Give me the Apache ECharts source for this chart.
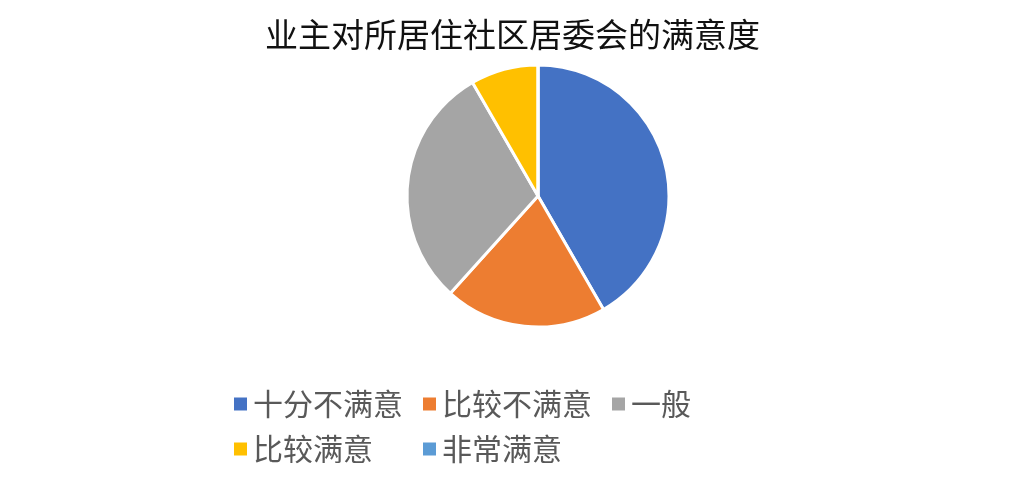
<!DOCTYPE html>
<html><head><meta charset="utf-8">
<script src="https://cdn.jsdelivr.net/npm/echarts@6/dist/echarts.min.js"></script>
<style>html,body{margin:0;padding:0;background:#fff}#c{width:1025px;height:496px}</style>
</head><body><div id="c"></div>
<script>
const titleText = '业主对所居住社区居委会的满意度';
const categories = ['十分不满意', '比较不满意', '一般', '比较满意', '非常满意'];
const values = [25, 12, 18, 5, 0];
const colors = ['#4472C4', '#ED7D31', '#A5A5A5', '#FFC000', '#5B9BD5'];

const chart = echarts.init(document.getElementById('c'), null, {renderer: 'canvas'});
chart.setOption({
  backgroundColor: '#fff',
  animation: false,
  color: colors,
  title: {
    text: titleText,
    left: 'center',
    top: 13,
    textStyle: {fontFamily: 'Noto Sans CJK SC', fontSize: 33, fontWeight: 'normal', color: '#111'}
  },
  legend: {
    data: categories,
    left: 227,
    top: 384,
    width: 590,
    orient: 'horizontal',
    itemWidth: 15,
    itemHeight: 15,
    itemGap: 15,
    icon: 'rect',
    textStyle: {fontFamily: 'Noto Sans CJK SC', fontSize: 30, color: '#595959', width: 153, lineHeight: 22, padding: [0,0,0,0]}
  },
  series: [{
    type: 'pie',
    center: [538, 196],
    radius: 131,
    startAngle: 90,
    clockwise: true,
    label: {show: false},
    labelLine: {show: false},
    itemStyle: {borderColor: '#fff', borderWidth: 3},
    data: categories.map((n, i) => ({name: n, value: values[i]}))
  }]
});
</script></body></html>
